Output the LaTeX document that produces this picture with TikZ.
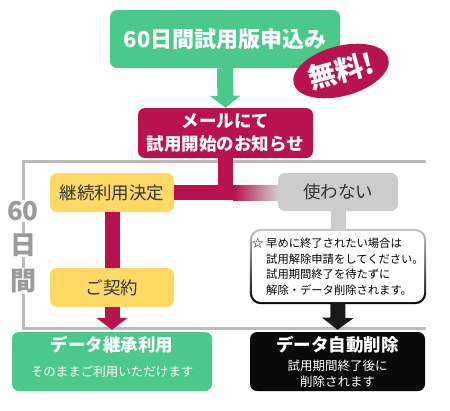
\documentclass[tikz,border=0pt]{standalone}
\usepackage{fontspec}
\setmainfont{Noto Sans CJK JP}
\usetikzlibrary{arrows.meta,shapes.geometric,calc,backgrounds}
\definecolor{verde}{HTML}{4CC98A}
\definecolor{carmin}{HTML}{B8124F}
\definecolor{amarillo}{HTML}{FFD966}
\definecolor{grisclaro}{HTML}{CCCCCC}
\definecolor{grismarco}{HTML}{BBBBBB}
\definecolor{grisdias}{HTML}{9A9A9A}
\definecolor{textoosc}{HTML}{333333}

\begin{document}
\begin{tikzpicture}[x=1pt, y=-1pt,
    caja/.style={rounded corners=7pt, inner sep=0pt, align=center},
    titulo/.style={font=\fontsize{17.5}{23}\selectfont\bfseries},
    subtitulo/.style={align=center, font=\fontsize{12.5}{15.5}\selectfont},
    opcion/.style={caja, minimum width=124pt, minimum height=39pt, text=textoosc, font=\fontsize{17.5}{20}\selectfont},
    dia/.style={fill=white, inner sep=1pt, text=grisdias, font=\fontsize{26}{26}\selectfont\bfseries},
    tronco/.style={line width=15pt},
    flecha/.style={line width=15pt, shorten >=2pt, -{Triangle[width=31pt, length=12pt]}}]
    \useasboundingbox (0,0) rectangle (450,410);

    % Marco de los 60 dias
    \draw[grismarco, line width=3pt] (426,161) -- (23,161) -- (23,328) -- (426,328);
    \node[dia] (d60) at (23,211) {60};
    \node[dia] (dhi) at (23,245) {日};
    \node[dia] (dkan) at (23,281) {間};

    % Solicitud de prueba
    \node[caja, fill=verde, text=white, minimum width=230pt, minimum height=58pt,
        font=\fontsize{22}{26}\selectfont\bfseries] (solicitud) at (225,39) {60日間試用版申込み};
    \node[ellipse, fill=carmin, text=white, minimum width=98pt, minimum height=50pt, inner sep=0pt,
        rotate=15, font=\fontsize{28}{28}\selectfont\bfseries] (gratis) at (341,71) {無料!};

    % Aviso por correo
    \node[caja, fill=carmin, text=white, titulo, minimum width=175pt, minimum height=50pt]
        (aviso) at (225.5,133) {メールにて\\試用開始のお知らせ};
    \draw[verde, line width=16pt, -{Triangle[width=30pt, length=12pt]}] (solicitud.south) -- (aviso.north);

    % Decisiones
    \node[opcion, fill=amarillo] (decision) at (112,192.5) {継続利用決定};
    \node[opcion, fill=grisclaro, minimum width=120pt, minimum height=38pt] (nouso) at (338,192) {使わない};
    \draw[carmin, tronco] (aviso.south) |- (decision.east);
    \shade[left color=carmin, right color=grisclaro]
        ($(aviso.south |- decision.east)+(7.5,-7.5)$) rectangle ($(nouso.west |- decision.east)+(0,7.5)$);

    % Rama de contrato
    \node[opcion, fill=amarillo] (contrato) at (112,287.5) {ご契約};
    \draw[carmin, tronco] (decision.south) -- (contrato.north);

    % Nota de cancelacion
    \node[fill=white, rounded corners=9pt, minimum width=172pt, minimum height=71pt, inner sep=0pt,
        align=left, font=\fontsize{11.3}{15.5}\selectfont] (nota) at (338,266.5)
        {\makebox[14pt][l]{☆}早めに終了されたい場合は\\
         \hspace*{14pt}試用解除申請をしてください。\\
         \hspace*{14pt}試用期間終了を待たずに\\
         \hspace*{14pt}解除・データ削除されます。};
    \begin{scope}[on background layer]
      \shade[rounded corners=11pt, top color=gray!45, bottom color=black]
          ($(nota.north west)+(-2,-2)$) rectangle ($(nota.south east)+(2,2)$);
    \end{scope}
    \draw[grisclaro, tronco] (nouso.south) -- (nota.north);

    % Resultados
    \node[caja, fill=verde, minimum width=200pt, minimum height=59pt] (herencia) at (112,361.5) {};
    \node[titulo, text=white] (therencia) at (112,345) {データ継承利用};
    \node[subtitulo, text=white] (sherencia) at (112,372) {そのままご利用いただけます};
    \node[caja, fill=black!96, minimum width=175pt, minimum height=59pt] (borrado) at (337.5,361.5) {};
    \node[titulo, text=white] (tborrado) at (337.5,345) {データ自動削除};
    \node[subtitulo, text=white] (sborrado) at (337.5,373.5) {試用期間終了後に\\削除されます};

    \draw[carmin, flecha] (contrato.south) -- (herencia.north);
    \draw[black!90, flecha] (nota.south) -- (borrado.north);
\end{tikzpicture}
\end{document}
